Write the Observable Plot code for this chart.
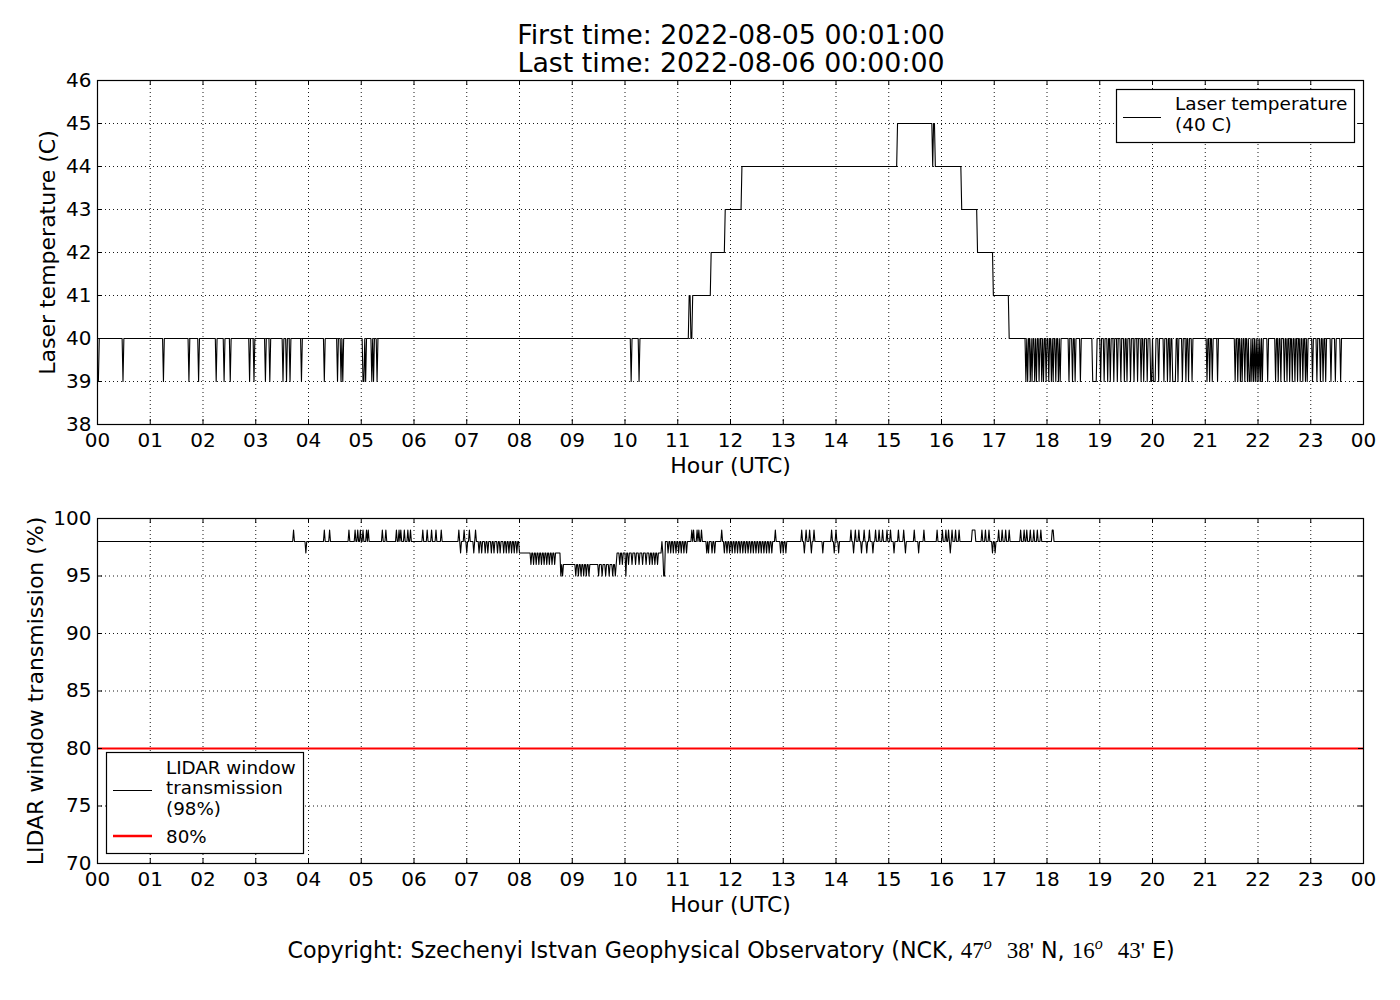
<!DOCTYPE html>
<html><head><meta charset="utf-8">
<script src="https://cdn.jsdelivr.net/npm/d3@7"></script>
<script src="https://cdn.jsdelivr.net/npm/@observablehq/plot@0.6"></script>
<style>
html,body{margin:0;padding:0;background:#fff;overflow:hidden;}
#fig{position:relative;width:1400px;height:1000px;font-family:"DejaVu Sans",sans-serif;}
#fig > svg{position:absolute;left:0;}
</style></head>
<body><div id="fig"></div>
<script>
// ---------- data ----------
const hourTicks = [0,1,2,3,4,5,6,7,8,9,10,11,12,13,14,15,16,17,18,19,20,21,22,23,24];
const hourLabels = ["00","01","02","03","04","05","06","07","08","09","10","11","12","13","14","15","16","17","18","19","20","21","22","23","00"];
const tempTicks = [38,39,40,41,42,43,44,45,46];
const transTicks = [70,75,80,85,90,95,100];

// Laser temperature: level changes (minute of day, °C)
const tempLevelStart = [0, 673, 675, 677, 698, 714, 733, 910, 950, 951, 953, 983, 1001, 1019, 1037];
const tempLevelValue = [40, 41, 40, 41, 42, 43, 44, 45, 44, 45, 44, 43, 42, 41, 40];
// minutes where the temperature reads one degree lower (39 C)
const tempLowMinutes = [1, 29, 75, 104, 115, 135, 144, 151, 173, 178, 191, 196, 211, 215, 219, 232, 258, 273, 277, 279,
  302, 303, 305, 312, 314, 318, 607, 616,
  1056, 1058, 1061, 1063, 1066, 1068, 1071, 1074, 1076, 1079, 1082, 1085, 1087, 1090, 1093, 1095,
  1105, 1109, 1112, 1118, 1132, 1133, 1134, 1135, 1136,
  1141, 1145, 1149, 1152, 1156, 1160, 1164, 1168, 1171, 1175, 1179, 1183, 1187, 1190, 1194, 1198, 1199, 1201, 1202, 1203, 1207,
  1213, 1217, 1220, 1223, 1224, 1225, 1226, 1229, 1234, 1238, 1241, 1245, 1262, 1265, 1268, 1274,
  1294, 1297, 1300, 1302, 1305, 1308, 1310, 1311, 1313, 1315, 1317, 1319, 1321, 1323, 1325, 1331, 1340, 1343, 1346,
  1350, 1353, 1356, 1359, 1362, 1365, 1368, 1371, 1374, 1376, 1382, 1387, 1391, 1394, 1397, 1403, 1408, 1414];

// LIDAR window transmission: level changes (minute of day, %)
const transLevelStart = [0, 481, 527, 591, 646];
const transLevelValue = [98, 97, 96, 97, 98];
// minutes one percent above the level
const transUpMinutes = [223, 258, 264, 286, 293, 296, 299, 302, 306, 308, 324, 328, 340, 343, 345, 349, 353, 356,
  370, 375, 380, 385, 391, 411, 417, 423, 430, 642, 676, 678, 682, 684, 687, 710, 771, 801, 806, 810, 815,
  835, 840, 857, 862, 866, 872, 878, 885, 889, 893, 898, 902, 911, 917, 929, 940, 955, 961, 965, 968, 972,
  976, 980, 995, 996, 997, 998, 1006, 1010, 1014, 1025, 1029, 1033, 1037, 1050, 1054, 1057, 1061, 1065,
  1069, 1073, 1086, 1087];
// minutes one percent below the level
const transDownMinutes = [237, 413, 420, 428,
  434, 437, 441, 444, 448, 451, 455, 458, 462, 465, 468, 471, 474, 477, 480,
  493, 496, 499, 502, 505, 508, 511, 514, 517, 520,
  527, 529, 544, 547, 550, 553, 556, 559, 570, 574, 578, 582, 586, 589,
  594, 597, 604, 608, 612, 616, 620, 624, 628, 631, 634, 637,
  649, 652, 655, 658, 661, 664, 667, 670, 693, 695, 699, 702,
  713, 716, 719, 722, 725, 728, 731, 734, 737, 740, 743, 746, 749, 752, 755, 758, 761, 764, 767,
  777, 780, 783, 804, 812, 825, 838, 843, 860, 869, 875, 882, 906, 919, 934, 970, 1018, 1021];
// minutes two percent below the level
const transDeepMinutes = [601, 644, 645];
const threshold = [80];

// ---------- build per-minute tables ----------
const minutes = d3.range(1, 1441);
function levelAt(starts, values, m) {
  let v = values[0];
  for (let i = 0; i < starts.length; i++) if (starts[i] <= m) v = values[i];
  return v;
}
const tLow = new Set(tempLowMinutes);
const tempSeries = minutes.map(m => ({h: m / 60, v: levelAt(tempLevelStart, tempLevelValue, m) - (tLow.has(m) ? 1 : 0)}));
const up = new Set(transUpMinutes), dn = new Set(transDownMinutes), deep = new Set(transDeepMinutes);
const transSeries = minutes.map(m => {
  const base = levelAt(transLevelStart, transLevelValue, m);
  return {h: m / 60, v: base + (up.has(m) ? 1 : 0) - (dn.has(m) ? 1 : 0) - (deep.has(m) ? 2 : 0)};
});

// ---------- plotting ----------
const W = 1400, ML = 97, MR = 37;
const PW = W - ML - MR;
const fmtHour = d => hourLabels[hourTicks.indexOf(d)];
const gridStyle = {stroke: "black", strokeOpacity: 0.9, strokeWidth: 1, strokeDasharray: "1,3"};

function panel({height, marginTop, marginBottom, yDomain, yTicks, series, ylabel, ylabelDx, extra}) {
  const PH = height - marginTop - marginBottom;
  return Plot.plot({
    width: W, height, marginLeft: ML, marginRight: MR, marginTop, marginBottom,
    style: {fontFamily: "DejaVu Sans", fontSize: "20px", background: "transparent", color: "black", overflow: "visible"},
    x: {domain: [0, 24]},
    y: {domain: yDomain},
    marks: [
      Plot.gridX(hourTicks, gridStyle),
      Plot.gridY(yTicks, gridStyle),
      ...(extra || []),
      Plot.line(series, {x: "h", y: "v", stroke: "black", strokeWidth: 1.1}),
      Plot.frame({stroke: "black", strokeWidth: 1.2}),
      Plot.tickX(hourTicks, {x: d => d, stroke: "black", insetTop: PH - 5}),
      Plot.tickX(hourTicks, {x: d => d, stroke: "black", insetBottom: PH - 5}),
      Plot.tickY(yTicks, {y: d => d, stroke: "black", insetRight: PW - 5}),
      Plot.tickY(yTicks, {y: d => d, stroke: "black", insetLeft: PW - 5}),
      Plot.axisX(hourTicks, {anchor: "bottom", tickSize: 0, tickPadding: 8, tickFormat: fmtHour, label: null, fontSize: 20}),
      Plot.axisY(yTicks, {anchor: "left", tickSize: 0, tickPadding: 6, label: null, fontSize: 20}),
      Plot.text(["Hour (UTC)"], {frameAnchor: "bottom", dy: 41, fontSize: 22, lineAnchor: "middle", textAnchor: "middle"}),
      Plot.text([ylabel], {frameAnchor: "left", dx: ylabelDx, rotate: -90, fontSize: 22, lineAnchor: "middle", textAnchor: "middle"})
    ]
  });
}

const topPlot = panel({height: 490, marginTop: 80, marginBottom: 66, yDomain: [38, 46], yTicks: tempTicks,
  series: tempSeries, ylabel: "Laser temperature (C)", ylabelDx: -50});
const botPlot = panel({height: 440, marginTop: 28, marginBottom: 67, yDomain: [70, 100], yTicks: transTicks,
  series: transSeries, ylabel: "LIDAR window transmission (%)", ylabelDx: -62,
  extra: [Plot.ruleY(threshold, {stroke: "red", strokeWidth: 2.2})]});

const fig = document.getElementById("fig");
topPlot.style.top = "0px";
botPlot.style.top = "490px";
fig.appendChild(topPlot);
fig.appendChild(botPlot);

// ---------- titles, legends, caption ----------
const ov = d3.select(fig).append("svg").attr("width", 1400).attr("height", 1000)
  .style("position", "absolute").style("top", "0px").style("left", "0px")
  .attr("font-family", "DejaVu Sans").attr("fill", "black");

ov.append("text").attr("x", 731).attr("y", 44).attr("text-anchor", "middle").attr("font-size", 26.8).text("First time: 2022-08-05 00:01:00");
ov.append("text").attr("x", 731).attr("y", 72).attr("text-anchor", "middle").attr("font-size", 26.8).text("Last time: 2022-08-06 00:00:00");

// top legend
ov.append("rect").attr("x", 1116.5).attr("y", 89.5).attr("width", 238).attr("height", 53).attr("fill", "white").attr("stroke", "black").attr("stroke-width", 1.2);
ov.append("line").attr("x1", 1123).attr("x2", 1161).attr("y1", 117.5).attr("y2", 117.5).attr("stroke", "black").attr("stroke-width", 1.1);
ov.append("text").attr("x", 1175).attr("y", 110).attr("font-size", 18.5).text("Laser temperature");
ov.append("text").attr("x", 1175).attr("y", 131).attr("font-size", 18.5).text("(40 C)");

// bottom legend
ov.append("rect").attr("x", 106.5).attr("y", 752.5).attr("width", 197).attr("height", 101).attr("fill", "white").attr("stroke", "black").attr("stroke-width", 1.2);
ov.append("line").attr("x1", 113).attr("x2", 152).attr("y1", 790.5).attr("y2", 790.5).attr("stroke", "black").attr("stroke-width", 1.1);
ov.append("line").attr("x1", 113).attr("x2", 152).attr("y1", 836).attr("y2", 836).attr("stroke", "red").attr("stroke-width", 2.4);
[["LIDAR window", 773.5], ["transmission", 794], ["(98%)", 814.5], ["80%", 842.5]].forEach(([t, y]) =>
  ov.append("text").attr("x", 166).attr("y", y).attr("font-size", 18.3).text(t));

// caption
const cap = ov.append("text").attr("x", 731).attr("y", 958).attr("text-anchor", "middle").attr("font-size", 22.2);
cap.append("tspan").text("Copyright: Szechenyi Istvan Geophysical Observatory (NCK, ");
cap.append("tspan").attr("font-family", "Liberation Serif").attr("font-size", 23).text("47");
cap.append("tspan").attr("font-family", "Liberation Serif").attr("font-style", "italic").attr("font-size", 16).attr("dy", -9).text("o");
cap.append("tspan").attr("font-family", "Liberation Serif").attr("font-size", 23).attr("dy", 9).attr("dx", 15).text("38'");
cap.append("tspan").text(" N, ");
cap.append("tspan").attr("font-family", "Liberation Serif").attr("font-size", 23).text("16");
cap.append("tspan").attr("font-family", "Liberation Serif").attr("font-style", "italic").attr("font-size", 16).attr("dy", -9).text("o");
cap.append("tspan").attr("font-family", "Liberation Serif").attr("font-size", 23).attr("dy", 9).attr("dx", 15).text("43'");
cap.append("tspan").text(" E)");
</script>
</body></html>
